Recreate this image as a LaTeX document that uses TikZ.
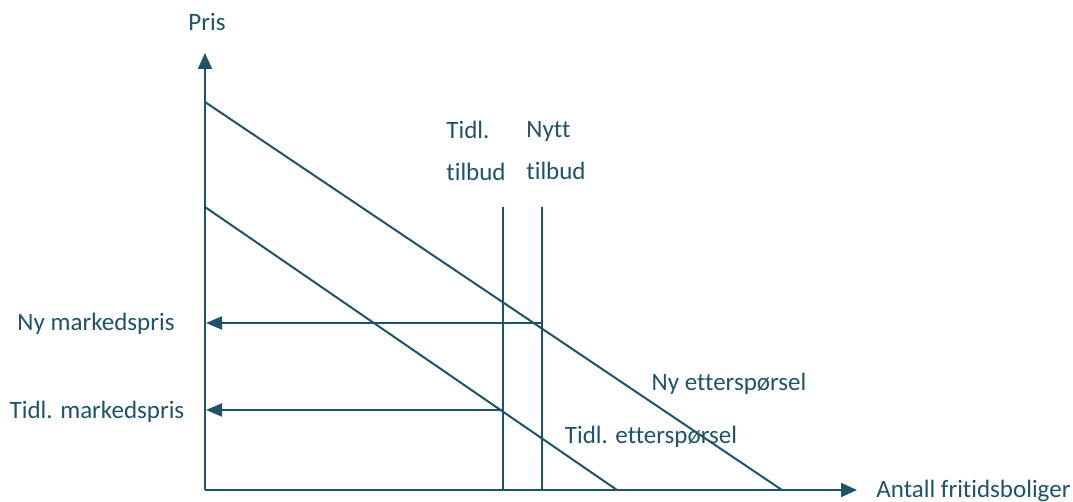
\documentclass[tikz,border=0pt]{standalone}
\usepackage{fontspec}
\setmainfont{Carlito}[Ligatures=NoCommon]
\usepackage{tikz}
\usetikzlibrary{arrows.meta}
\definecolor{deep teal}{rgb}{0.1216, 0.3255, 0.4157}

\begin{document}
\begin{tikzpicture}[x=0.5pt, y=-0.5pt,
		axisline/.style = {draw=deep teal, line width=1pt, -{Triangle[length=8pt, width=7pt]}},
		curveline/.style = {draw=deep teal, line width=1pt},
		pricearrow/.style = {draw=deep teal, line width=1pt, -{Triangle[length=8pt, width=6.5pt]}},
		lbl/.style = {text=deep teal, inner sep=0pt, font=\fontsize{12.5}{21}\selectfont}]
			\useasboundingbox (0, 0) rectangle (1073, 502);
			% axes
			\coordinate (origo) at (205, 490);
			\coordinate (pristopp) at (205, 53);
			\coordinate (antallende) at (857, 490);
			\draw[axisline] (origo) -- (pristopp);
			\draw[axisline] (origo) -- (antallende);
			\node[lbl] (pris) at (207, 22) {Pris};
			\node[lbl, anchor=west] (antall) at (876, 491) {Antall fritidsboliger};
			% demand lines
			\begin{scope}
				\coordinate (nyE1) at (205, 102);
				\coordinate (nyE2) at (782, 490);
				\coordinate (tidlE1) at (205, 207);
				\coordinate (tidlE2) at (617, 490);
				\draw[curveline] (nyE1) -- (nyE2);
				\draw[curveline] (tidlE1) -- (tidlE2);
				\node[lbl] (nyetter) at (729, 384) {Ny etterspørsel};
				\node[lbl] (tidletter) at (651, 437) {Tidl. etterspørsel};
			\end{scope}
			% supply lines
			\begin{scope}
				\coordinate (tidlT1) at (503, 207);
				\coordinate (tidlT2) at (503, 490);
				\coordinate (nyT1) at (542, 207);
				\coordinate (nyT2) at (542, 490);
				\draw[curveline] (tidlT1) -- (tidlT2);
				\draw[curveline] (nyT1) -- (nyT2);
				\node[lbl, align=left, anchor=west] (tidltilbud) at (446, 151) {Tidl.\\tilbud};
				\node[lbl, align=left, anchor=west] (nytilbud) at (526, 151) {Nytt\\tilbud};
			\end{scope}
			% market prices
			\coordinate (nyP) at (542, 323);
			\coordinate (nyPakse) at (206, 323);
			\coordinate (tidlP) at (503, 410);
			\coordinate (tidlPakse) at (206, 410);
			\draw[pricearrow] (nyP) -- (nyPakse);
			\draw[pricearrow] (tidlP) -- (tidlPakse);
			\node[lbl] (nypris) at (96, 324) {Ny markedspris};
			\node[lbl] (tidlpris) at (97, 412) {Tidl. markedspris};
		\end{tikzpicture}
\end{document}
